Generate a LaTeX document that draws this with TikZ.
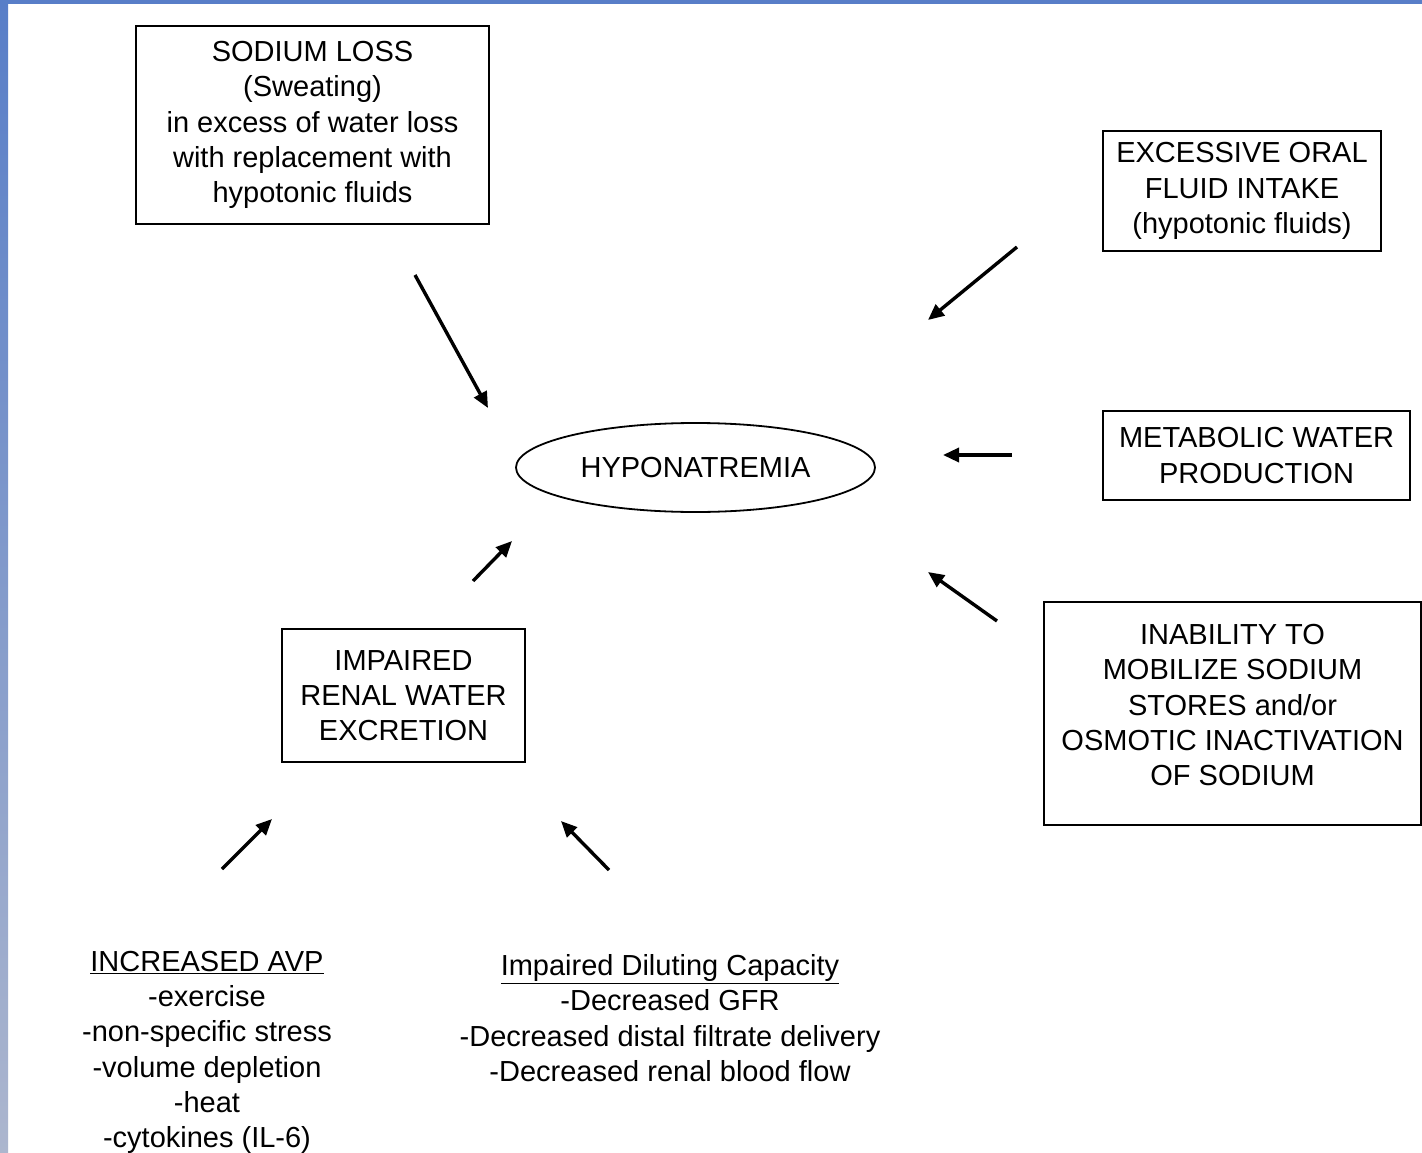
\documentclass[tikz,border=0pt]{standalone}
\usepackage{fontspec}
\setmainfont{Liberation Sans}
\usepackage{tikz}
\usepackage{tkz-euclide}
\usetikzlibrary{calc}
\usetikzlibrary{arrows.meta}
\usetikzlibrary{shapes.geometric}
\definecolor{frameblue}{RGB}{88,126,200}
\definecolor{framegrey}{RGB}{172,182,206}

\begin{document}
\begin{tikzpicture}[x=1pt,y=-1pt,
                box/.style={draw,line width=1.8pt,align=center,inner sep=0pt,
                        font=\fontsize{29}{35.3}\selectfont},
                txt/.style={align=center,inner sep=0pt,font=\fontsize{29}{35.3}\selectfont},
                arr/.style={line width=3.4pt,-{Triangle[length=16pt,width=14pt]}}]
                \useasboundingbox (0,0) rectangle (1422,1153);
                \fill[white] (0,0) rectangle (1422,1153);
                \shade[top color=frameblue,bottom color=framegrey] (0,0) rectangle (8,1153);
                \fill[frameblue] (0,0) rectangle (1422,4);

                \node[box,minimum width=353pt,minimum height=198pt] (loss) at (312.5,125)
                        {SODIUM LOSS\\(Sweating)\\in excess of water loss\\with replacement with\\hypotonic fluids};
                \node[box,minimum width=278pt,minimum height=120pt] (intake) at (1242,191)
                        {EXCESSIVE ORAL\\FLUID INTAKE\\(hypotonic fluids)};
                \node[box,minimum width=307pt,minimum height=89pt] (metab) at (1256.5,455.5)
                        {METABOLIC WATER\\PRODUCTION};
                \node[box,minimum width=377pt,minimum height=223pt] (stores) at (1232.5,713.5)
                        {INABILITY TO\\MOBILIZE SODIUM\\STORES and/or\\OSMOTIC INACTIVATION\\OF SODIUM\rule[-17pt]{0pt}{1pt}};
                \node[draw,line width=1.8pt,ellipse,inner sep=0pt,minimum width=359pt,minimum height=89pt,
                        font=\fontsize{29}{35.3}\selectfont] (hypo) at (695.5,467.5) {HYPONATREMIA};
                \node[box,minimum width=243pt,minimum height=133pt] (renal) at (403.5,695.5)
                        {IMPAIRED\\RENAL WATER\\EXCRETION};
                \node[txt] (avp) at (207,1052.5)
                        {\underline{INCREASED AVP}\\-exercise\\-non-specific stress\\-volume depletion\\-heat\\-cytokines (IL-6)};
                \node[txt] (dilute) at (670,1018)
                        {\underline{Impaired Diluting Capacity}\\-Decreased GFR\\-Decreased distal filtrate delivery\\-Decreased renal blood flow};

                \tkzDefPoint(415,275){L1}
                \tkzDefPoint(488,408){L2}
                \tkzDefPoint(1017,247){I1}
                \tkzDefPoint(928,320){I2}
                \tkzDefPoint(1012,455){M1}
                \tkzDefPoint(943,455){M2}
                \tkzDefPoint(997,621){S1}
                \tkzDefPoint(928,572){S2}
                \tkzDefPoint(473,581){R1}
                \tkzDefPoint(512,541){R2}
                \tkzDefPoint(222,869){A1}
                \tkzDefPoint(272,819){A2}
                \tkzDefPoint(609,870){D1}
                \tkzDefPoint(561,821){D2}

                \draw[arr] (L1) -- (L2);
                \draw[arr] (I1) -- (I2);
                \draw[arr] (M1) -- (M2);
                \draw[arr] (S1) -- (S2);
                \draw[arr] (R1) -- (R2);
                \draw[arr] (A1) -- (A2);
                \draw[arr] (D1) -- (D2);
            \end{tikzpicture}
\end{document}
